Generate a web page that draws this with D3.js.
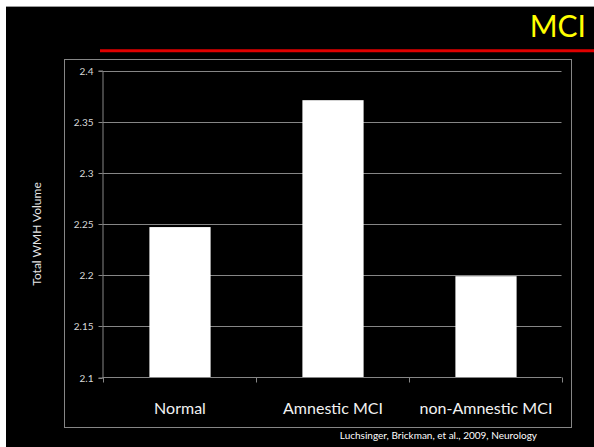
<!DOCTYPE html>
<html>
<head>
<meta charset="utf-8">
<script src="https://cdn.jsdelivr.net/npm/d3@7/dist/d3.min.js"></script>
<style>
  html, body { margin: 0; padding: 0; background: #ffffff; }
  svg { display: block; }
  text { font-family: Lato, "Open Sans", sans-serif; }
</style>
</head>
<body>
<svg id="chart" width="594" height="447"></svg>
<script>
// Total white-matter hyperintensity volume by cognitive group
const categories = ["Normal", "Amnestic MCI", "non-Amnestic MCI"];
const values = [2.247, 2.371, 2.199];
const yTicks = [2.1, 2.15, 2.2, 2.25, 2.3, 2.35, 2.4];
const yDomain = [2.1, 2.4];
const title = "MCI";
const yLabel = "Total WMH Volume";
const source = "Luchsinger, Brickman, et al., 2009, Neurology";

const svg = d3.select("#chart");

// slide background
svg.append("rect").attr("x", 6).attr("y", 6).attr("width", 588).attr("height", 441).attr("fill", "#000");
svg.append("line").attr("x1", 6).attr("x2", 594).attr("y1", 6.5).attr("y2", 6.5)
  .attr("stroke", "#9a9a9a").attr("stroke-width", 1);

// slide title with red rule
svg.append("text").attr("x", 586).attr("y", 37).attr("text-anchor", "end")
  .attr("font-size", 30).attr("fill", "#ffff00").text(title);
svg.append("line").attr("x1", 100).attr("x2", 594).attr("y1", 50.8).attr("y2", 50.8)
  .attr("stroke", "#e00000").attr("stroke-width", 3);

// chart frame
svg.append("rect").attr("x", 64.5).attr("y", 59.5).attr("width", 507).attr("height", 368)
  .attr("fill", "none").attr("stroke", "#868686").attr("stroke-width", 1);

const plot = { left: 102.5, right: 561.5, top: 70.5, bottom: 377.5 };

const x = d3.scaleBand().domain(categories).range([plot.left, plot.right])
  .paddingInner(0.6).paddingOuter(0.3);
const band = d3.scaleBand().domain(categories).range([plot.left, plot.right]);
const y = d3.scaleLinear().domain(yDomain).range([plot.bottom, plot.top]);

// gridlines
svg.append("g").selectAll("line").data(yTicks.slice(1)).join("line")
  .attr("x1", plot.left).attr("x2", plot.right)
  .attr("y1", d => Math.round(y(d)) + 0.5).attr("y2", d => Math.round(y(d)) + 0.5)
  .attr("stroke", "#868686").attr("stroke-width", 1);

// bars
svg.append("g").selectAll("rect").data(values).join("rect")
  .attr("x", (d, i) => x(categories[i]) + 1)
  .attr("width", x.bandwidth())
  .attr("y", d => y(d))
  .attr("height", d => y(yDomain[0]) - y(d))
  .attr("fill", "#ffffff");

// y axis
const yAxis = d3.axisLeft(y).tickValues(yTicks).tickSize(4).tickPadding(5)
  .tickFormat(d => d3.format("")(+d.toFixed(2)));
const gy = svg.append("g").attr("transform", `translate(${plot.left},0)`).call(yAxis);
gy.select(".domain").attr("stroke", "#868686");
gy.selectAll(".tick line").attr("stroke", "#868686");
gy.selectAll(".tick text").attr("fill", "#d9d9d9").attr("font-size", 10)
  .style("font-family", "Lato, sans-serif");
gy.selectAll(".tick").attr("transform", d => `translate(0,${Math.round(y(d)) + 0.5})`);

// x axis: baseline with ticks at category boundaries
const gx = svg.append("g");
gx.append("line").attr("x1", plot.left).attr("x2", plot.right)
  .attr("y1", plot.bottom).attr("y2", plot.bottom).attr("stroke", "#868686");
const bounds = categories.map(c => band(c)).concat([band(categories[categories.length - 1]) + band.bandwidth()]);
gx.selectAll("line.tk").data(bounds).join("line").attr("class", "tk")
  .attr("x1", d => Math.round(d) + 0.5).attr("x2", d => Math.round(d) + 0.5)
  .attr("y1", plot.bottom).attr("y2", plot.bottom + 5).attr("stroke", "#868686");
gx.selectAll("text").data(categories).join("text")
  .attr("x", d => band(d) + band.bandwidth() / 2 + 1)
  .attr("y", 413.5).attr("text-anchor", "middle")
  .attr("font-size", 16).attr("fill", "#f2f2f2").text(d => d);

// y axis title
svg.append("text")
  .attr("transform", `translate(41,${(plot.top + plot.bottom) / 2 + 10}) rotate(-90)`)
  .attr("text-anchor", "middle").attr("font-size", 12).attr("fill", "#e6e6e6")
  .text(yLabel);

// source note
svg.append("text").attr("x", 537).attr("y", 438.5).attr("text-anchor", "end")
  .attr("font-size", 10).attr("fill", "#ffffff").text(source);
</script>
</body>
</html>
